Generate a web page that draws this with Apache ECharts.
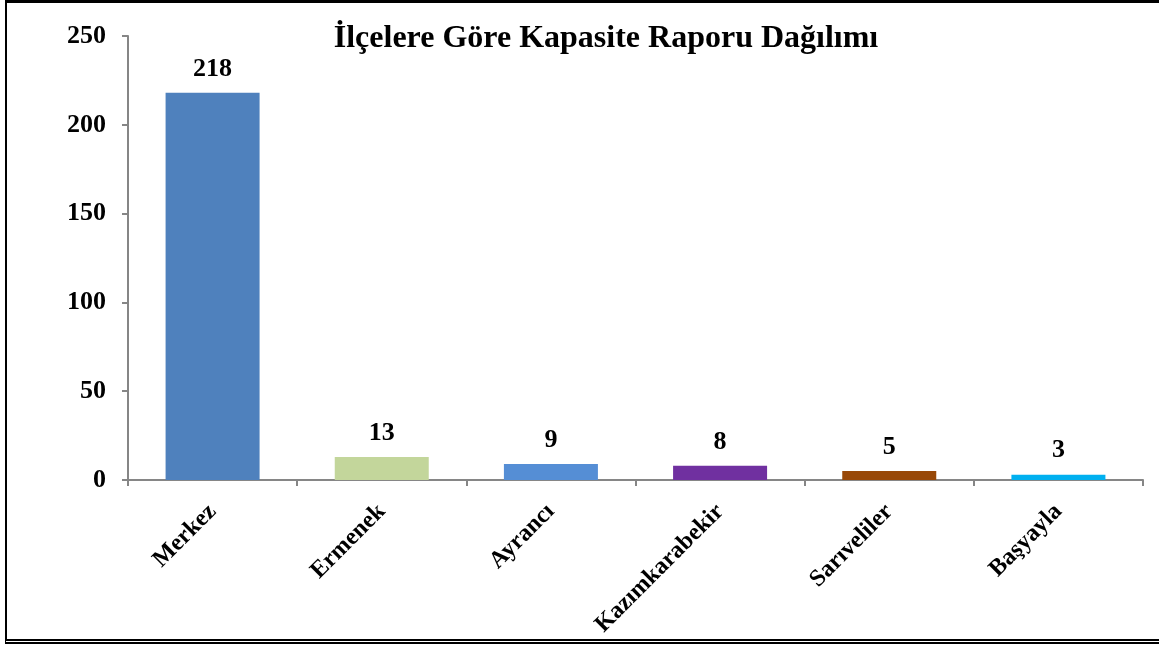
<!DOCTYPE html>
<html>
<head>
<meta charset="utf-8">
<script src="https://cdn.jsdelivr.net/npm/echarts@6/dist/echarts.min.js"></script>
<style>
  html, body { margin: 0; padding: 0; background: #fff; overflow: hidden; }
  #chart { position: absolute; left: 0; top: 0; width: 1159px; height: 646px; }
  #frame {
    position: absolute; left: 5px; top: 0; width: 1200px; height: 644px;
    border-top: 3px solid #000; border-left: 2px solid #000; border-bottom: 5px double #000;
    box-sizing: border-box; pointer-events: none;
  }
</style>
</head>
<body>
<div id="chart"></div>
<div id="frame"></div>
<script>
const categories = ["Merkez", "Ermenek", "Ayrancı", "Kazımkarabekir", "Sarıveliler", "Başyayla"];
const values = [218, 13, 9, 8, 5, 3];
const barColors = ["#4F81BD", "#C3D69B", "#558ED5", "#7030A0", "#984807", "#00B0F0"];

const font = "'Liberation Serif', 'Times New Roman', serif";
const axisGray = "#868686";

const chart = echarts.init(document.getElementById("chart"));
chart.setOption({
  animation: false,
  title: {
    text: "İlçelere Göre Kapasite Raporu Dağılımı",
    left: 601, top: 18, textAlign: "center",
    textStyle: { fontFamily: font, fontWeight: "bold", fontSize: 32, color: "#000" }
  },
  grid: { left: 128, right: 16, top: 36, bottom: 166, containLabel: false },
  xAxis: {
    type: "category",
    data: categories,
    axisLine: { lineStyle: { color: axisGray, width: 2 } },
    axisTick: { show: true, length: 6, alignWithLabel: false, lineStyle: { color: axisGray, width: 2 } },
    axisLabel: {
      rotate: 45, margin: 28, interval: 0,
      fontFamily: font, fontWeight: "bold", fontSize: 24, color: "#000"
    }
  },
  yAxis: {
    type: "value",
    min: 0, max: 250, interval: 50,
    splitLine: { show: false },
    axisLine: { show: true, lineStyle: { color: axisGray, width: 2 } },
    axisTick: { show: true, length: 6, lineStyle: { color: axisGray, width: 2 } },
    axisLabel: { margin: 22, fontFamily: font, fontWeight: "bold", fontSize: 26, color: "#000" }
  },
  series: [{
    type: "bar",
    barWidth: 94,
    data: values.map((v, i) => ({ value: v, itemStyle: { color: barColors[i] } })),
    label: {
      show: true, position: "top", distance: 11,
      fontFamily: font, fontWeight: "bold", fontSize: 26, color: "#000"
    }
  }]
});
</script>
</body>
</html>
